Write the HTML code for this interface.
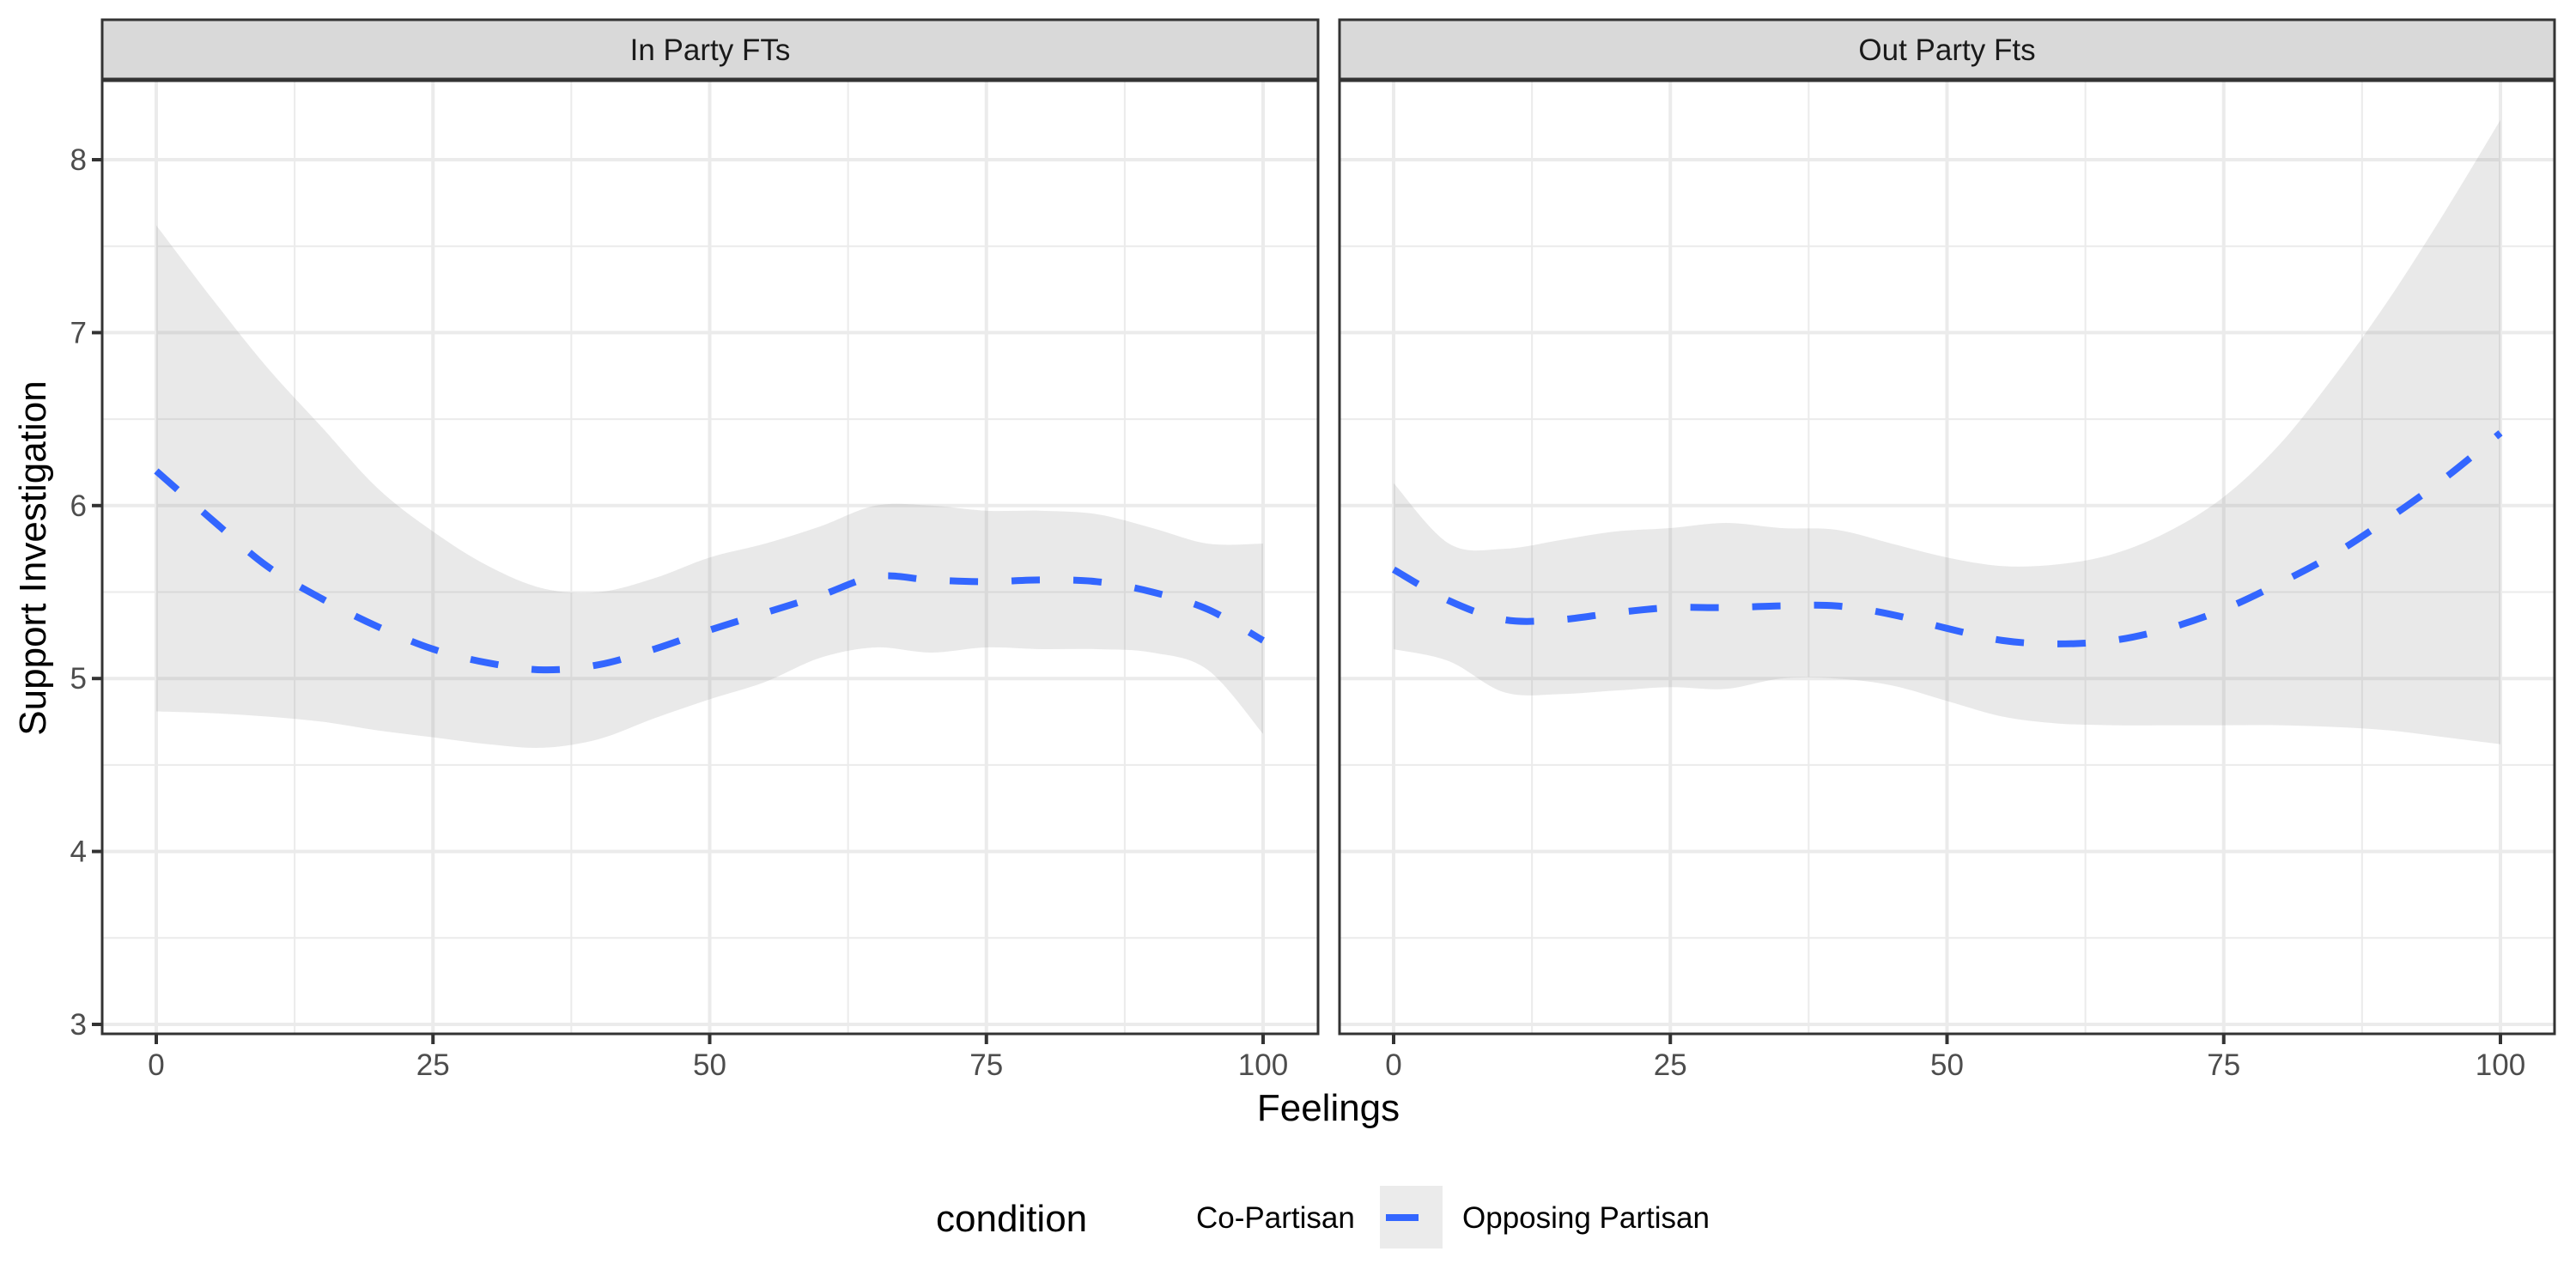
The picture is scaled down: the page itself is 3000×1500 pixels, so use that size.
<!DOCTYPE html>
<html><head><meta charset="utf-8"><style>
html,body{margin:0;padding:0;background:#fff;}
svg{display:block;font-family:"Liberation Sans",Arial,sans-serif;}
</style></head><body>
<svg id="chart" width="3000" height="1500" viewBox="0 0 3000 1500" xmlns="http://www.w3.org/2000/svg">
<rect width="3000" height="1500" fill="#fff"/>
<g id="panels"></g>
<text x="0" y="0" transform="translate(53,650) rotate(-90)" text-anchor="middle" font-size="44" fill="#000">Support Investigation</text>
<text x="1547" y="1305" text-anchor="middle" font-size="44" fill="#000">Feelings</text>
<g>
<text x="1090" y="1434" font-size="44" fill="#000">condition</text>
<text x="1393" y="1430" font-size="35" fill="#000">Co-Partisan</text>
<rect x="1607" y="1381" width="73" height="73" fill="#ebebeb"/>
<line x1="1614" y1="1418" x2="1652" y2="1418" stroke="#3366ff" stroke-width="8"/>
<text x="1703" y="1430" font-size="35" fill="#000">Opposing Partisan</text>
</g>
</svg>
<script>
const xs = [0,5,10,15,20,25,30,35,40,45,50,55,60,65,70,75,80,85,90,95,100];
const panelTitles = ["In Party FTs","Out Party Fts"];
const leftFit   = [6.2,5.92,5.65,5.46,5.3,5.17,5.09,5.05,5.08,5.17,5.28,5.38,5.48,5.59,5.57,5.56,5.57,5.56,5.5,5.4,5.22];
const leftUpper = [7.62,7.2,6.8,6.45,6.1,5.85,5.65,5.52,5.5,5.58,5.7,5.78,5.88,6.0,6.0,5.97,5.97,5.95,5.87,5.78,5.78];
const leftLower = [4.81,4.8,4.78,4.75,4.7,4.66,4.62,4.6,4.65,4.77,4.88,4.98,5.12,5.18,5.15,5.18,5.17,5.17,5.15,5.05,4.68];
const rightFit   = [5.63,5.45,5.34,5.34,5.38,5.41,5.41,5.42,5.42,5.37,5.29,5.22,5.2,5.22,5.29,5.4,5.55,5.72,5.93,6.16,6.42];
const rightUpper = [6.13,5.78,5.75,5.8,5.85,5.87,5.9,5.87,5.86,5.78,5.7,5.65,5.66,5.72,5.85,6.05,6.35,6.75,7.2,7.7,8.23];
const rightLower = [5.17,5.1,4.92,4.91,4.93,4.95,4.94,5.0,5.0,4.96,4.87,4.78,4.74,4.73,4.73,4.73,4.73,4.72,4.7,4.66,4.62];
const xTicks = [0,25,50,75,100];
const yTicks = [3,4,5,6,7,8];

const NS = "http://www.w3.org/2000/svg";
const panelsG = document.getElementById("panels");
function mk(tag, attrs, parent){const e=document.createElementNS(NS,tag);for(const k in attrs)e.setAttribute(k,attrs[k]);parent.appendChild(e);return e;}
function smooth(pts, start){
  let d = start ? "M"+pts[0][0]+","+pts[0][1] : " L"+pts[0][0]+","+pts[0][1];
  for(let i=0;i<pts.length-1;i++){
    const p0=pts[Math.max(0,i-1)], p1=pts[i], p2=pts[i+1], p3=pts[Math.min(pts.length-1,i+2)];
    const c1=[p1[0]+(p2[0]-p0[0])/6, p1[1]+(p2[1]-p0[1])/6];
    const c2=[p2[0]-(p3[0]-p1[0])/6, p2[1]-(p3[1]-p1[1])/6];
    d+=" C"+c1[0]+","+c1[1]+" "+c2[0]+","+c2[1]+" "+p2[0]+","+p2[1];
  }
  return d;
}

const pTop=94, pBottom=1204;
const yScale = v => 186 + (8 - v) * 201.4;
const panelDefs = [
  {left:119, right:1535, x0:182, fit:leftFit, up:leftUpper, lo:leftLower},
  {left:1560, right:2975, x0:1623, fit:rightFit, up:rightUpper, lo:rightLower}
];
panelDefs.forEach((p, pi) => {
  const xScale = v => p.x0 + v * 12.89;
  const g = mk("g", {}, panelsG);
  
  
  for (let i=0;i<xTicks.length-1;i++){
    const v=(xTicks[i]+xTicks[i+1])/2;
    const l=mk("line",{x1:xScale(v),x2:xScale(v),y1:pTop,y2:pBottom,stroke:"#ebebeb","stroke-width":2},g);
    
    
  }
  for (let i=0;i<yTicks.length-1;i++){
    const v=(yTicks[i]+yTicks[i+1])/2;
    const l=mk("line",{x1:p.left,x2:p.right,y1:yScale(v),y2:yScale(v),stroke:"#ebebeb","stroke-width":2},g);
    
    
  }
  xTicks.forEach(v=>{
    const l=mk("line",{x1:xScale(v),x2:xScale(v),y1:pTop,y2:pBottom,stroke:"#ebebeb","stroke-width":4},g);
    
    
    const t=mk("line",{x1:xScale(v),x2:xScale(v),y1:pBottom,y2:pBottom+12,stroke:"#333","stroke-width":4},g);
    
    
    const tx=mk("text",{x:xScale(v),y:1252,"text-anchor":"middle","font-size":35,fill:"#4d4d4d"},g);
    tx.textContent=v;
    
    
  });
  yTicks.forEach(v=>{
    const l=mk("line",{x1:p.left,x2:p.right,y1:yScale(v),y2:yScale(v),stroke:"#ebebeb","stroke-width":4},g);
    
    
    if (pi===0){
      const t=mk("line",{x1:p.left-12,x2:p.left,y1:yScale(v),y2:yScale(v),stroke:"#333","stroke-width":4},g);
      
      
      const tx=mk("text",{x:p.left-18,y:yScale(v)+12,"text-anchor":"end","font-size":35,fill:"#4d4d4d"},g);
      tx.textContent=v;
      
      
    }
  });
  const upPts = xs.map((v,i)=>[xScale(v), yScale(p.up[i])]);
  const loPts = xs.map((v,i)=>[xScale(v), yScale(p.lo[i])]).reverse();
  const d = smooth(upPts,true) + smooth(loPts,false) + " Z";
  const rib=mk("path",{d:d,fill:"#999999","fill-opacity":0.22},g);
  
  
  const fitPts = xs.map((v,i)=>[xScale(v), yScale(p.fit[i])]);
  const ln=mk("path",{d:smooth(fitPts,true),fill:"none",stroke:"#3366ff","stroke-width":8,"stroke-dasharray":"33 39","stroke-linejoin":"round"},g);
  
  
  const border=mk("rect",{x:p.left,y:pTop,width:p.right-p.left,height:pBottom-pTop,fill:"none",stroke:"#333","stroke-width":3},g);
  
  
  const strip=mk("rect",{x:p.left,y:23,width:p.right-p.left,height:69,fill:"#d9d9d9",stroke:"#333","stroke-width":3},g);
  
  
  const st=mk("text",{x:(p.left+p.right)/2,y:70,"text-anchor":"middle","font-size":35,fill:"#1a1a1a"},g);
  st.textContent=panelTitles[pi];
  
  
});
</script>
</body></html>
